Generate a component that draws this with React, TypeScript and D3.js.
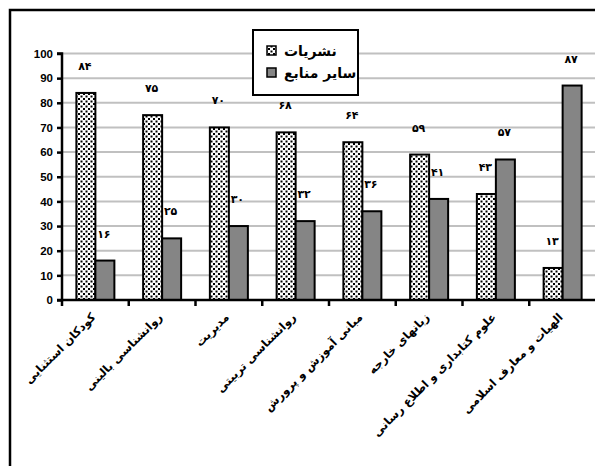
import React from "react";
import { select, scaleBand, scaleLinear, axisLeft } from "d3";

const categories = [
  "کودکان استثنایی",
  "روانشناسی بالینی",
  "مدیریت",
  "روانشناسی تربیتی",
  "مبانی آموزش و پرورش",
  "زبانهای خارجه",
  "علوم کتابداری و اطلاع رسانی",
  "الهیات و معارف اسلامی",
];
const seriesNames = ["نشریات", "سایر منابع"];
const nashriyat = [84, 75, 70, 68, 64, 59, 43, 13];
const sayerManabe = [16, 25, 30, 32, 36, 41, 57, 87];
const yTicks = [0, 10, 20, 30, 40, 50, 60, 70, 80, 90, 100];

const toFa = (n: number) =>
  String(n).replace(/\d/g, (d) => "۰۱۲۳۴۵۶۷۸۹"[+d]);

const W = 595;
const H = 466;
const margin = { top: 53.5, left: 62, right: -1, bottom: 166 };

const Chart = () => {
  const svgRef = React.useRef<SVGSVGElement>(null);

  React.useEffect(() => {
    const svg = select(svgRef.current);
    svg.selectAll("*").remove();

    const x = scaleBand<string>()
      .domain(categories)
      .range([margin.left, W - margin.right]);
    const y = scaleLinear()
      .domain([0, 100])
      .range([H - margin.bottom, margin.top]);
    const barW = 19;
    const x1 = scaleBand<string>()
      .domain(seriesNames)
      .range([-barW, barW]);

    const defs = svg.append("defs");
    const pat = defs
      .append("pattern")
      .attr("id", "dots")
      .attr("patternUnits", "userSpaceOnUse")
      .attr("width", 5)
      .attr("height", 5);
    pat.append("rect").attr("width", 5).attr("height", 5).attr("fill", "#fff");
    pat.append("rect").attr("x", 0.5).attr("y", 0.5).attr("width", 2).attr("height", 2).attr("fill", "#000");
    pat.append("rect").attr("x", 3).attr("y", 3).attr("width", 2).attr("height", 2).attr("fill", "#000");

    svg.append("rect").attr("width", W).attr("height", H).attr("fill", "#fff");

    // outer frame
    svg
      .append("path")
      .attr("d", `M10,${H + 5}V10H${W + 5}`)
      .attr("fill", "none")
      .attr("stroke", "#000")
      .attr("stroke-width", 2.5);

    // gridlines
    svg
      .append("g")
      .selectAll("line")
      .data(yTicks.filter((t) => t > 0))
      .join("line")
      .attr("x1", margin.left)
      .attr("x2", W)
      .attr("y1", (d) => y(d))
      .attr("y2", (d) => y(d))
      .attr("stroke", "#c0c0c0")
      .attr("stroke-width", 2);

    const fills = ["url(#dots)", "#858585"];
    const seriesData = [nashriyat, sayerManabe];

    seriesData.forEach((vals, si) => {
      const g = svg.append("g");
      g.selectAll("rect")
        .data(vals)
        .join("rect")
        .attr("x", (d, i) => x(categories[i])! + x.bandwidth() / 2 + x1(seriesNames[si])!)
        .attr("y", (d) => y(d))
        .attr("width", x1.bandwidth())
        .attr("height", (d) => y(0) - y(d))
        .attr("fill", fills[si])
        .attr("stroke", "#000")
        .attr("stroke-width", 2);
      g.selectAll("text")
        .data(vals)
        .join("text")
        .attr("x", (d, i) => x(categories[i])! + x.bandwidth() / 2 + x1(seriesNames[si])! + x1.bandwidth() / 2 - 1)
        .attr("y", (d) => y(d) - 23)
        .attr("text-anchor", "middle")
        .attr("font-family", "DejaVu Sans")
        .attr("font-weight", "bold")
        .attr("font-size", 11)
        .text((d) => toFa(d));
    });

    // y axis
    const ya = svg
      .append("g")
      .attr("transform", `translate(${margin.left},0)`)
      .call(axisLeft(y).tickValues(yTicks).tickSize(5).tickPadding(4));
    ya.select(".domain").attr("stroke-width", 2.5).attr("d", `M-5,${y(100)}H0V${y(0)}H-5`);
    ya.selectAll(".tick line").attr("stroke-width", 2.5);
    ya.selectAll(".tick text")
      .attr("font-family", "Liberation Sans, Arial")
      .attr("font-weight", "bold")
      .attr("font-size", 11.5)
      .attr("fill", "#000");

    // x axis
    const xa = svg.append("g");
    xa.append("line")
      .attr("x1", margin.left)
      .attr("x2", W)
      .attr("y1", y(0))
      .attr("y2", y(0))
      .attr("stroke", "#000")
      .attr("stroke-width", 2.5);
    xa.selectAll("line.tk")
      .data(categories)
      .join("line")
      .attr("class", "tk")
      .attr("x1", (d) => x(d)!)
      .attr("x2", (d) => x(d)!)
      .attr("y1", y(0))
      .attr("y2", y(0) + 6)
      .attr("stroke", "#000")
      .attr("stroke-width", 2.5);
    xa.selectAll("text")
      .data(categories)
      .join("text")
      .attr("transform", (d) => `translate(${x(d)! + x.bandwidth() / 2 - 2},${y(0) + 15}) rotate(-45)`)
      .attr("text-anchor", "end")
      .attr("dy", "0.35em")
      .attr("font-family", "DejaVu Sans")
      .attr("font-weight", "bold")
      .attr("font-size", 11.5)
      .text((d) => d);

    // legend
    const lg = svg.append("g");
    lg.append("rect")
      .attr("x", 253)
      .attr("y", 30)
      .attr("width", 105)
      .attr("height", 65)
      .attr("fill", "#fff")
      .attr("stroke", "#000")
      .attr("stroke-width", 2);
    seriesNames.forEach((name, i) => {
      const cy = 51 + i * 22;
      lg.append("rect")
        .attr("x", 267)
        .attr("y", cy - 5)
        .attr("width", 9)
        .attr("height", 9)
        .attr("fill", fills[i])
        .attr("stroke", "#000")
        .attr("stroke-width", 1.5);
      lg.append("text")
        .attr("x", 284)
        .attr("y", cy)
        .attr("dy", "0.35em")
        .attr("text-anchor", "start")
        .attr("font-family", "DejaVu Sans")
        .attr("font-weight", "bold")
        .attr("font-size", 14)
        .text(name);
    });
  }, []);

  return (
    <svg
      ref={svgRef}
      width={W}
      height={H}
      style={{ position: "absolute", left: 0, top: 0 }}
    />
  );
};

export default function App() {
  return <Chart />;
}
